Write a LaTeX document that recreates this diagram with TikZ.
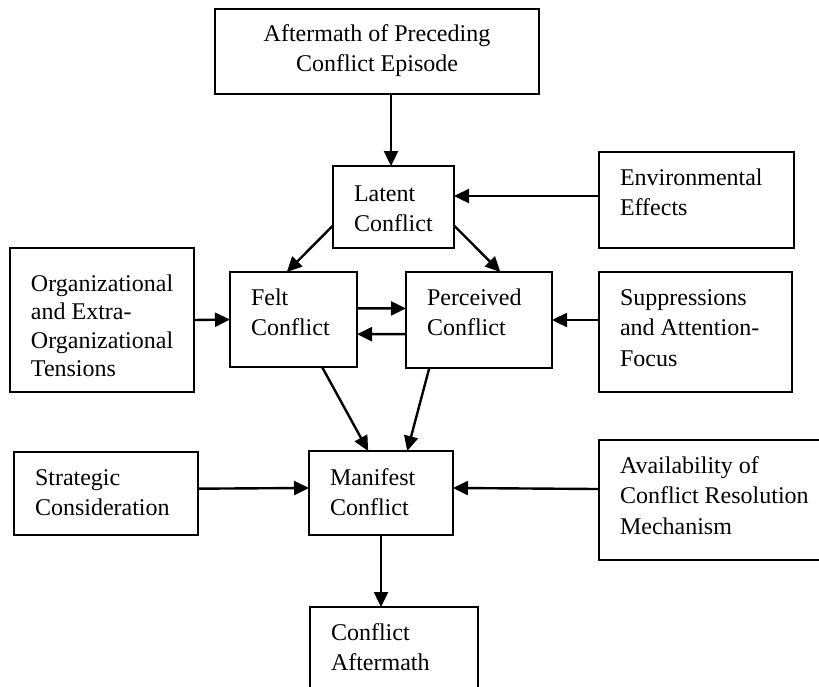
\documentclass[tikz,border=0pt]{standalone}
\usepackage{fontspec}
\setmainfont{Liberation Serif}
\usepackage{tikz}
\usetikzlibrary{arrows.meta}

\hyphenpenalty=10000
\newdimen\pxu
\pxu=0.5pt
\newcommand{\boxtext}[4][16.5pt]{\parbox[c][#3\pxu][t]{\dimexpr#2\pxu-21pt\relax}{\rule{0pt}{#1}#4}}

\begin{document}
\begin{tikzpicture}[x=0.5pt, y=-0.5pt,
		blk/.style={draw, line width=1pt, anchor=north west, outer sep=0pt, inner xsep=10.5pt, inner ysep=0pt, font=\fontsize{12pt}{15.4pt}\selectfont},
		arr/.style={line width=1.2pt, -{Triangle[length=7.5pt,width=7pt]}}]
		\useasboundingbox (0,0) rectangle (819,686);
		\clip (0,0) rectangle (819,686);

		\node[blk] (prev) at (215,9) {\boxtext[16pt]{324}{85}{\centering Aftermath of Preceding\\Conflict Episode}};
		\node[blk] (lat) at (333,166) {\boxtext[17.5pt]{121}{82}{Latent\\Conflict}};
		\node[blk] (env) at (599,152) {\boxtext{195}{96}{Environmental\\Effects}};
		\node[blk, font=\fontsize{12pt}{14.3pt}\selectfont] (org) at (10,248) {\boxtext[21.5pt]{184}{144}{Organizational\\and Extra-\\Organizational\\Tensions}};
		\node[blk] (felt) at (230,272) {\boxtext{127}{95}{Felt\\Conflict}};
		\node[blk] (perc) at (406,272) {\boxtext{146}{96}{Perceived\\Conflict}};
		\node[blk] (supp) at (599,272) {\boxtext{193}{120}{Suppressions\\and Attention-\\Focus}};
		\node[blk] (strat) at (14,452) {\boxtext{184}{83}{Strategic\\Consideration}};
		\node[blk] (man) at (309,451) {\boxtext[17pt]{144}{84}{Manifest\\Conflict}};
		\node[blk] (avail) at (599,440) {\boxtext{251}{120}{Availability of\\Conflict Resolution\\Mechanism}};
		\node[blk] (aft) at (310,607) {\boxtext{168}{100}{Conflict\\Aftermath}};

		\draw[arr] ([xshift=-1.25pt]prev.south -| lat.north) -- ([xshift=-1.25pt]lat.north);
		\draw[arr] ([yshift=2pt]env.west) -- ([yshift=2pt]env.west -| lat.east);
		\draw[arr] (lat.197) -- (felt.98);
		\draw[arr] (lat.-17) -- (perc.66);
		\draw[arr] (felt.10) -- (perc.171);
		\draw[arr] (perc.191) -- (felt.-13);
		\draw[arr] (org.east) -- (felt.west);
		\draw[arr] (perc.east -| supp.west) -- (perc.east);
		\draw[arr] (felt.-59) -- (man.107);
		\draw[arr] (perc.224) -- (man.58);
		\draw[arr] (strat.3) -- (man.176);
		\draw[arr] (avail.175) -- (man.4);
		\draw[arr] (man.south) -- (man.south |- aft.north);
	\end{tikzpicture}
\end{document}
